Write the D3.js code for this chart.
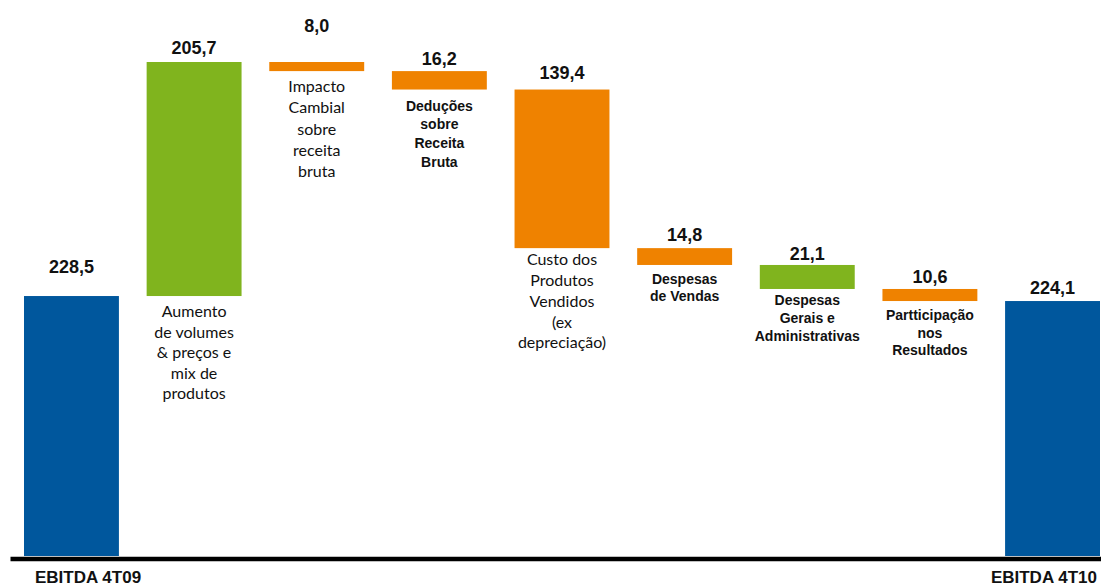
<!DOCTYPE html>
<html>
<head>
<meta charset="utf-8">
<script src="https://cdn.jsdelivr.net/npm/d3@7"></script>
<style>
  body { margin: 0; background: #fff; }
  svg { display: block; }
</style>
</head>
<body>
<div id="chart"></div>
<script>
// data
const steps = ["EBITDA 4T09", "Aumento", "Impacto", "Deducoes", "Custo", "Vendas", "Gerais", "Participacao", "EBITDA 4T10"]
const stepValues = [228.5, 205.7, -8.0, -16.2, -139.4, -14.8, -21.1, -10.6, 224.1]
const stepKind = ["total", "up", "down", "down", "down", "down", "up", "down", "total"]
const stepLabels = [
  [],
  ["Aumento", "de volumes", "& preços e", "mix de", "produtos"],
  ["Impacto", "Cambial", "sobre", "receita", "bruta"],
  ["Deduções", "sobre", "Receita", "Bruta"],
  ["Custo dos", "Produtos", "Vendidos", "(ex", "depreciação)"],
  ["Despesas", "de Vendas"],
  ["Despesas", "Gerais e", "Administrativas"],
  ["Partticipação", "nos", "Resultados"],
  []
]

const width = 1101
const height = 588
const colors = { total: "#00579d", up: "#80b41e", down: "#ef8200" }
// label styling: calibri-ish or helvetica-ish
const labelStyle = [null, "c", "c", "h", "c", "h", "h", "h", null]
const labelLineH = [0, 20.5, 21.2, 18.8, 20.8, 17.5, 18, 17.5, 0]
const labelGap = [0, 21, 21, 21, 17, 19, 16, 19, 0]
const valueGap = [23, 8, 30, 6, 11, 7, 5, 6, 7]

// running totals
var wf = []
var run = 0
stepValues.forEach(function(v, i) {
  if (stepKind[i] == "total") {
    wf.push({ lo: 0, hi: v }); run = v
  } else {
    var next = run + v
    wf.push({ lo: Math.min(run, next), hi: Math.max(run, next) }); run = next
  }
})

var svg = d3.select("#chart").append("svg")
  .attr("width", width)
  .attr("height", height)

var x = d3.scaleBand()
  .domain(steps)
  .range([24, 1100])
  .paddingInner(0.226)
  .paddingOuter(0)

var y = d3.scaleLinear()
  .domain([0, 434.2])
  .range([556, 62])

svg.selectAll("rect.bar")
  .data(wf)
  .enter()
  .append("rect")
  .attr("class", "bar")
  .attr("x", (d, i) => x(steps[i]))
  .attr("width", x.bandwidth())
  .attr("y", d => y(d.hi))
  .attr("height", d => y(d.lo) - y(d.hi))
  .attr("fill", (d, i) => colors[stepKind[i]])

// axis line
svg.append("g")
  .attr("class", "xAxis")
  .attr("transform", "translate(0," + 558.5 + ")")
  .call(d3.axisBottom(d3.scaleLinear().range([10, 1101])).tickValues([]).tickSizeOuter(0))
svg.select("g.xAxis path.domain")
  .style("stroke", "#000")
  .style("stroke-width", 4.5)

// value labels
svg.selectAll("text.val")
  .data(wf)
  .enter()
  .append("text")
  .attr("class", "val")
  .attr("x", (d, i) => x(steps[i]) + x.bandwidth() / 2)
  .attr("y", (d, i) => y(d.hi) - valueGap[i])
  .attr("text-anchor", "middle")
  .style("font-family", "'Liberation Sans', Arial, sans-serif")
  .style("font-weight", "bold")
  .style("font-size", "18px")
  .style("fill", "#111")
  .text((d, i) => Math.abs(stepValues[i]).toFixed(1).replace(".", ","))

// category text under floating bars
stepLabels.forEach(function(lines, i) {
  if (!lines.length) return
  var t = svg.append("text")
    .attr("text-anchor", "middle")
    .style("fill", "#111")
  if (labelStyle[i] == "c") {
    t.style("font-family", "Lato, 'Open Sans', sans-serif").style("font-size", "16px")
  } else {
    t.style("font-family", "'Liberation Sans', Arial, sans-serif").style("font-size", "14px").style("font-weight", "bold")
  }
  var cx = x(steps[i]) + x.bandwidth() / 2
  var top = y(wf[i].lo) + labelGap[i]
  lines.forEach(function(s, k) {
    t.append("tspan")
      .attr("x", cx)
      .attr("y", top + k * labelLineH[i])
      .text(s)
  })
})

// end labels below axis
svg.append("text")
  .attr("x", 35)
  .attr("y", 583)
  .attr("text-anchor", "start")
  .style("font-family", "'Liberation Sans', Arial, sans-serif")
  .style("font-weight", "bold")
  .style("font-size", "17px")
  .style("fill", "#111")
  .text(steps[0])

svg.append("text")
  .attr("x", 1097)
  .attr("y", 583)
  .attr("text-anchor", "end")
  .style("font-family", "'Liberation Sans', Arial, sans-serif")
  .style("font-weight", "bold")
  .style("font-size", "17px")
  .style("fill", "#111")
  .text(steps[8])
</script>
</body>
</html>
